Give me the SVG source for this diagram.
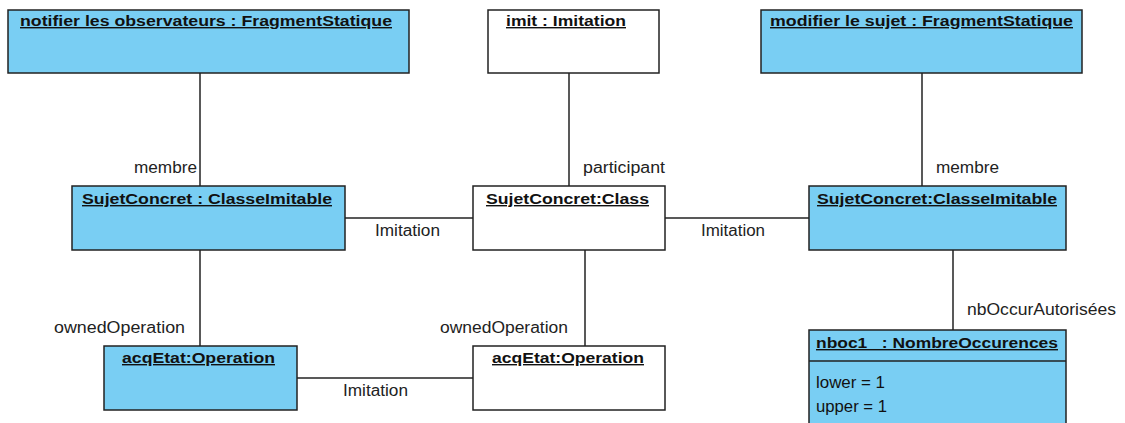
<svg xmlns="http://www.w3.org/2000/svg" width="1125" height="423" viewBox="0 0 1125 423">
<style>
.box{stroke:#222;stroke-width:1.5}
.blue{fill:#79CEF3}
.white{fill:#ffffff}
.title{font-family:"Liberation Sans",Arial,sans-serif;font-size:14px;font-weight:bold;fill:#111;text-decoration:underline}
.lbl{font-family:"Liberation Sans",Arial,sans-serif;font-size:16px;fill:#222}
.attr{font-family:"Liberation Sans",Arial,sans-serif;font-size:16px;fill:#111}
.con{stroke:#222;stroke-width:1.5;fill:none}
</style>
<rect width="1125" height="423" fill="#ffffff"/>
<g id="connectors">
<line class="con" x1="200" y1="73" x2="200" y2="186"/>
<line class="con" x1="569" y1="73" x2="569" y2="186"/>
<line class="con" x1="922" y1="73" x2="922" y2="186"/>
<line class="con" x1="345" y1="218" x2="473" y2="218"/>
<line class="con" x1="665" y1="218" x2="809" y2="218"/>
<line class="con" x1="200" y1="250" x2="200" y2="346"/>
<line class="con" x1="585" y1="250" x2="585" y2="346"/>
<line class="con" x1="953" y1="250" x2="953" y2="330"/>
<line class="con" x1="297" y1="378" x2="473" y2="378"/>
<text class="lbl" x="134" y="173" textLength="63" lengthAdjust="spacingAndGlyphs">membre</text>
<text class="lbl" x="583" y="173" textLength="82" lengthAdjust="spacingAndGlyphs">participant</text>
<text class="lbl" x="936" y="173" textLength="63" lengthAdjust="spacingAndGlyphs">membre</text>
<text class="lbl" x="375" y="236" textLength="65" lengthAdjust="spacingAndGlyphs">Imitation</text>
<text class="lbl" x="701" y="236" textLength="64" lengthAdjust="spacingAndGlyphs">Imitation</text>
<text class="lbl" x="54" y="333" textLength="131" lengthAdjust="spacingAndGlyphs">ownedOperation</text>
<text class="lbl" x="440" y="333" textLength="128" lengthAdjust="spacingAndGlyphs">ownedOperation</text>
<text class="lbl" x="343" y="396" textLength="65" lengthAdjust="spacingAndGlyphs">Imitation</text>
<text class="lbl" x="967" y="315" textLength="149" lengthAdjust="spacingAndGlyphs">nbOccurAutorisées</text>
</g>
<g id="notifier">
<rect class="box blue" x="8" y="10" width="401" height="63"/>
<text class="title" x="20" y="26" textLength="372" lengthAdjust="spacingAndGlyphs">notifier les observateurs : FragmentStatique</text>
</g>
<g id="imit">
<rect class="box white" x="488" y="10" width="171" height="63"/>
<text class="title" x="506" y="26" textLength="120" lengthAdjust="spacingAndGlyphs">imit : Imitation</text>
</g>
<g id="modifier">
<rect class="box blue" x="761" y="10" width="321" height="63"/>
<text class="title" x="770" y="26" textLength="303" lengthAdjust="spacingAndGlyphs">modifier le sujet : FragmentStatique</text>
</g>
<g id="sujetLeft">
<rect class="box blue" x="72" y="186" width="273" height="64"/>
<text class="title" x="82" y="204" textLength="250" lengthAdjust="spacingAndGlyphs">SujetConcret : ClasseImitable</text>
</g>
<g id="sujetClass">
<rect class="box white" x="473" y="186" width="192" height="64"/>
<text class="title" x="486" y="204" textLength="163" lengthAdjust="spacingAndGlyphs">SujetConcret:Class</text>
</g>
<g id="sujetRight">
<rect class="box blue" x="809" y="186" width="257" height="64"/>
<text class="title" x="817" y="204" textLength="240" lengthAdjust="spacingAndGlyphs">SujetConcret:ClasseImitable</text>
</g>
<g id="acqLeft">
<rect class="box blue" x="104" y="346" width="193" height="64"/>
<text class="title" x="122" y="363" textLength="153" lengthAdjust="spacingAndGlyphs">acqEtat:Operation</text>
</g>
<g id="acqMid">
<rect class="box white" x="473" y="346" width="192" height="64"/>
<text class="title" x="492" y="363" textLength="152" lengthAdjust="spacingAndGlyphs">acqEtat:Operation</text>
</g>
<g id="nboc1">
<rect class="box blue" x="809" y="330" width="257" height="100"/>
<text class="title" x="816" y="348" textLength="242" lengthAdjust="spacingAndGlyphs" style="white-space:pre">nboc1   : NombreOccurences</text>
<line class="con" x1="809" y1="361" x2="1066" y2="361"/>
<text class="attr" x="816" y="388" textLength="69" lengthAdjust="spacingAndGlyphs">lower = 1</text>
<text class="attr" x="816" y="412" textLength="71" lengthAdjust="spacingAndGlyphs">upper = 1</text>
</g>
</svg>
